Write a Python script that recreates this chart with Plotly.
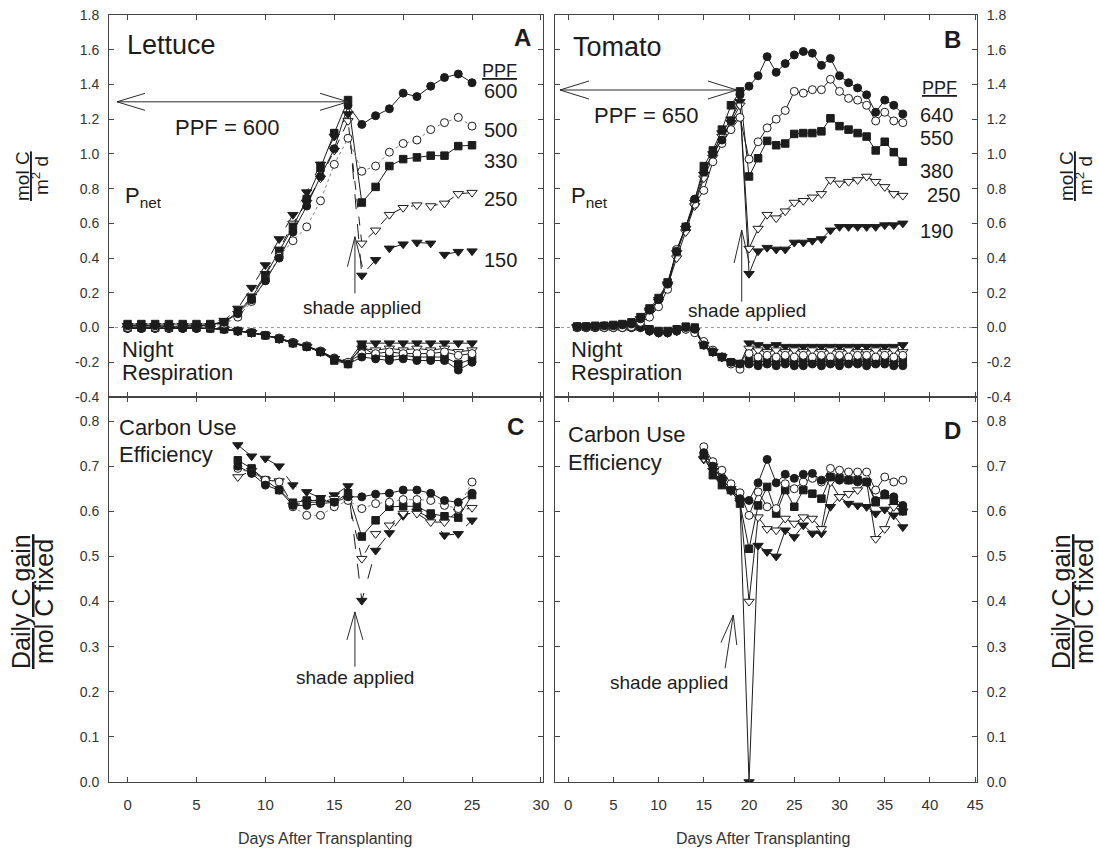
import plotly.graph_objects as go

# ------------------------------------------------------------------ data
lettuce_days = list(range(0, 26))
lettuce_pnet = {
    "600": [0.01, 0.01, 0.01, 0.005, 0.01, 0.01, 0.015, 0.03, 0.08, 0.16, 0.27, 0.40, 0.55, 0.70, 0.87, 1.03, 1.28,
            1.17, 1.22, 1.26, 1.35, 1.33, 1.39, 1.44, 1.46, 1.41],
    "500": [0.0, 0.01, 0.0, 0.0, 0.01, 0.01, 0.01, 0.02, 0.06, 0.15, 0.27, 0.41, 0.50, 0.58, 0.73, 0.94, 1.09,
            0.90, 0.93, 1.01, 1.06, 1.08, 1.14, 1.18, 1.21, 1.16],
    "330": [0.02, 0.02, 0.02, 0.02, 0.02, 0.02, 0.02, 0.03, 0.09, 0.17, 0.30, 0.44, 0.58, 0.74, 0.92, 1.12, 1.31,
            0.72, 0.81, 0.93, 0.97, 0.98, 0.99, 0.99, 1.045, 1.05],
    "250": [0.01, 0.01, 0.01, 0.01, 0.01, 0.01, 0.01, 0.03, 0.08, 0.18, 0.31, 0.45, 0.60, 0.72, 0.86, 1.02, 1.19,
            0.485, 0.56, 0.65, 0.69, 0.705, 0.70, 0.715, 0.77, 0.777],
    "150": [0.01, 0.01, 0.01, 0.01, 0.01, 0.01, 0.01, 0.04, 0.11, 0.23, 0.36, 0.51, 0.65, 0.78, 0.94, 1.10, 1.23,
            0.30, 0.39, 0.456, 0.48, 0.49, 0.485, 0.42, 0.437, 0.44],
}
lettuce_night = {
    "600": [-0.005, -0.005, -0.005, -0.005, -0.005, -0.005, -0.005, -0.01, -0.02, -0.03, -0.045, -0.065, -0.09,
            -0.11, -0.14, -0.18, -0.21, -0.17, -0.18, -0.19, -0.18, -0.19, -0.19, -0.19, -0.245, -0.20],
    "500": [-0.005, -0.005, -0.005, -0.005, -0.005, -0.005, -0.005, -0.01, -0.02, -0.03, -0.045, -0.06, -0.085,
            -0.105, -0.135, -0.175, -0.20, -0.15, -0.15, -0.14, -0.15, -0.15, -0.15, -0.14, -0.16, -0.15],
    "330": [-0.0, -0.0, -0.0, -0.0, -0.0, -0.0, -0.005, -0.01, -0.02, -0.03, -0.045, -0.065, -0.09,
            -0.11, -0.14, -0.19, -0.21, -0.11, -0.16, -0.17, -0.16, -0.17, -0.17, -0.17, -0.21, -0.18],
    "250": [-0.005, -0.005, -0.005, -0.005, -0.005, -0.005, -0.005, -0.01, -0.02, -0.03, -0.045, -0.065, -0.09,
            -0.11, -0.14, -0.18, -0.20, -0.12, -0.13, -0.12, -0.13, -0.12, -0.13, -0.12, -0.14, -0.13],
    "150": [-0.005, -0.005, -0.005, -0.005, -0.005, -0.005, -0.005, -0.01, -0.02, -0.03, -0.045, -0.065, -0.09,
            -0.11, -0.14, -0.18, -0.20, -0.09, -0.09, -0.09, -0.09, -0.09, -0.09, -0.09, -0.09, -0.09],
}
lettuce_cue_days = list(range(8, 26))
lettuce_cue = {
    "600": [0.70, 0.684, 0.658, 0.647, 0.613, 0.613, 0.617, 0.62, 0.632, 0.632, 0.638, 0.64, 0.647, 0.647, 0.64,
            0.624, 0.62, 0.64],
    "500": [0.695, 0.685, 0.669, 0.665, 0.61, 0.591, 0.591, 0.61, 0.624, 0.606, 0.617, 0.62, 0.626, 0.626, 0.624,
            0.613, 0.606, 0.665],
    "330": [0.713, 0.695, 0.669, 0.647, 0.619, 0.624, 0.624, 0.62, 0.64, 0.544, 0.58, 0.61, 0.611, 0.611, 0.595,
            0.589, 0.586, 0.636],
    "250": [0.676, 0.69, 0.669, 0.667, 0.613, 0.62, 0.62, 0.628, 0.628, 0.495, 0.55, 0.569, 0.595, 0.595, 0.576,
            0.576, 0.60, 0.608],
    "150": [0.747, 0.722, 0.717, 0.70, 0.658, 0.643, 0.63, 0.636, 0.656, 0.402, 0.513, 0.552, 0.59, 0.60, 0.585,
            0.547, 0.55, 0.58],
}

tomato_days = list(range(1, 38))
tomato_pnet = {
    "640": [0.005, 0.005, 0.005, 0.01, 0.01, 0.015, 0.02, 0.05, 0.10, 0.16, 0.25, 0.44, 0.58, 0.74, 0.90, 1.00,
            1.08, 1.19, 1.34, 1.39, 1.45, 1.56, 1.47, 1.52, 1.57, 1.59, 1.58, 1.51, 1.55, 1.45, 1.41, 1.38, 1.34,
            1.24, 1.31, 1.28, 1.23],
    "550": [0.0, 0.0, 0.0, 0.0, 0.0, 0.0, 0.005, 0.03, 0.06, 0.12, 0.22, 0.45, 0.58, 0.71, 0.79, 0.955, 1.06,
            1.14, 1.21, 0.97, 1.07, 1.15, 1.20, 1.25, 1.36, 1.35, 1.37, 1.37, 1.43, 1.36, 1.32, 1.31, 1.28, 1.19,
            1.24, 1.19, 1.18],
    "380": [0.005, 0.005, 0.01, 0.01, 0.015, 0.02, 0.03, 0.06, 0.11, 0.17, 0.26, 0.44, 0.58, 0.73, 0.93, 1.02,
            1.14, 1.28, 1.36, 0.87, 0.975, 1.075, 1.05, 1.06, 1.115, 1.12, 1.12, 1.13, 1.205, 1.16, 1.14, 1.12,
            1.10, 1.02, 1.07, 1.01, 0.955],
    "250": [0.005, 0.005, 0.005, 0.01, 0.01, 0.015, 0.02, 0.05, 0.09, 0.15, 0.24, 0.40, 0.55, 0.70, 0.86, 0.98,
            1.10, 1.18, 1.28, 0.455, 0.57, 0.65, 0.63, 0.67, 0.72, 0.73, 0.75, 0.77, 0.85, 0.83, 0.84, 0.85, 0.87,
            0.84, 0.81, 0.77, 0.76],
    "190": [0.005, 0.005, 0.005, 0.01, 0.01, 0.015, 0.02, 0.05, 0.10, 0.16, 0.25, 0.43, 0.57, 0.72, 0.88, 1.00,
            1.12, 1.20, 1.30, 0.31, 0.44, 0.46, 0.45, 0.45, 0.49, 0.49, 0.50, 0.51, 0.56, 0.58, 0.58, 0.58, 0.58,
            0.58, 0.59, 0.59, 0.60],
}
tomato_night = {
    "640": [0.0, 0.0, 0.0, 0.0, 0.0, 0.0, 0.0, 0.0, -0.02, -0.03, -0.03, -0.02, 0.0, -0.01, -0.10, -0.14, -0.17,
            -0.20, -0.21, -0.21, -0.22, -0.21, -0.22, -0.21, -0.22, -0.22, -0.21, -0.22, -0.21, -0.22, -0.21,
            -0.21, -0.22, -0.21, -0.21, -0.22, -0.22],
    "550": [0.0, 0.0, 0.0, 0.0, 0.0, 0.0, 0.0, 0.0, -0.02, -0.03, -0.03, -0.02, -0.01, -0.03, -0.08, -0.13,
            -0.17, -0.21, -0.24, -0.15, -0.17, -0.16, -0.17, -0.16, -0.17, -0.16, -0.17, -0.16, -0.17, -0.16,
            -0.17, -0.16, -0.16, -0.17, -0.16, -0.17, -0.16],
    "380": [0.005, 0.005, 0.005, 0.005, 0.005, 0.005, 0.005, 0.005, -0.01, -0.02, -0.02, -0.01, 0.005, 0.0,
            -0.10, -0.14, -0.17, -0.20, -0.21, -0.19, -0.20, -0.19, -0.20, -0.19, -0.20, -0.19, -0.20, -0.19,
            -0.20, -0.19, -0.19, -0.20, -0.19, -0.20, -0.19, -0.20, -0.19],
    "250": [0.0, 0.0, 0.0, 0.0, 0.0, 0.0, 0.0, 0.0, -0.02, -0.03, -0.03, -0.02, -0.01, -0.02, -0.10, -0.14,
            -0.17, -0.20, -0.21, -0.12, -0.13, -0.14, -0.13, -0.14, -0.13, -0.14, -0.13, -0.14, -0.13, -0.14,
            -0.13, -0.14, -0.14, -0.13, -0.14, -0.13, -0.14],
    "190": [0.0, 0.0, 0.0, 0.0, 0.0, 0.0, 0.0, 0.0, -0.02, -0.03, -0.03, -0.02, -0.01, -0.02, -0.10, -0.14,
            -0.17, -0.20, -0.21, -0.09, -0.10, -0.11, -0.10, -0.11, -0.11, -0.11, -0.11, -0.11, -0.11, -0.11,
            -0.11, -0.11, -0.11, -0.11, -0.11, -0.11, -0.10],
}
tomato_cue_days = list(range(15, 38))
tomato_cue = {
    "640": [0.73, 0.70, 0.673, 0.647, 0.628, 0.624, 0.663, 0.715, 0.663, 0.682, 0.673, 0.682, 0.684, 0.669,
            0.676, 0.669, 0.669, 0.665, 0.665, 0.624, 0.639, 0.632, 0.613],
    "550": [0.743, 0.71, 0.691, 0.661, 0.641, 0.591, 0.643, 0.61, 0.606, 0.661, 0.65, 0.665, 0.673, 0.665,
            0.695, 0.691, 0.687, 0.687, 0.687, 0.647, 0.676, 0.665, 0.669],
    "380": [0.724, 0.68, 0.658, 0.647, 0.617, 0.517, 0.613, 0.654, 0.595, 0.647, 0.61, 0.647, 0.639, 0.628,
            0.676, 0.673, 0.669, 0.669, 0.665, 0.62, 0.636, 0.624, 0.60],
    "250": [0.717, 0.70, 0.67, 0.65, 0.624, 0.40, 0.587, 0.561, 0.558, 0.584, 0.573, 0.587, 0.584, 0.561,
            0.665, 0.632, 0.639, 0.647, 0.665, 0.539, 0.561, 0.61, 0.60],
    "190": [0.715, 0.69, 0.665, 0.645, 0.62, 0.0, 0.524, 0.51, 0.50, 0.558, 0.543, 0.569, 0.551, 0.551, 0.61,
            0.632, 0.617, 0.613, 0.61, 0.595, 0.604, 0.591, 0.565],
}

top_ticks = [-0.4, -0.2, 0.0, 0.2, 0.4, 0.6, 0.8, 1.0, 1.2, 1.4, 1.6, 1.8]
top_tick_text = ["-0.4", "-0.2", "0.0", "0.2", "0.4", "0.6", "0.8", "1.0", "1.2", "1.4", "1.6", "1.8"]
bot_ticks = [0.0, 0.1, 0.2, 0.3, 0.4, 0.5, 0.6, 0.7, 0.8]
bot_tick_text = ["0.0", "0.1", "0.2", "0.3", "0.4", "0.5", "0.6", "0.7", "0.8"]
lettuce_x_ticks = [0, 5, 10, 15, 20, 25, 30]
tomato_x_ticks = [0, 5, 10, 15, 20, 25, 30, 35, 40, 45]

# ------------------------------------------------------------------ styling
W, H = 1099, 853
FONT = "Liberation Sans, Arial, Helvetica, sans-serif"
NARROW = "Liberation Sans Narrow, Arial Narrow, Liberation Sans, sans-serif"
INK = "#1c1c1c"
AX = "#454545"

XR_L = [-1.35, 30.15]
XR_T = [-1.45, 45.2]
YR_TOP = [-0.4, 1.8]
YR_BOT = [0.0, 0.8533]

PANEL = {
    "A": dict(xa="x", ya="y", xr=XR_L, yr=YR_TOP, px=(109, 543), py=(15, 397)),
    "B": dict(xa="x2", ya="y2", xr=XR_T, yr=YR_TOP, px=(555, 977), py=(15, 397)),
    "C": dict(xa="x3", ya="y3", xr=XR_L, yr=YR_BOT, px=(109, 543), py=(397, 782)),
    "D": dict(xa="x4", ya="y4", xr=XR_T, yr=YR_BOT, px=(555, 977), py=(397, 782)),
}

MARK = {  # series key -> (symbol, filled, size)
    "circle_f": ("circle", True, 8),
    "circle_o": ("circle", False, 8),
    "square_f": ("square", True, 7.5),
    "tri_o": ("triangle-down", False, 9),
    "tri_f": ("triangle-down", True, 9),
}
L_STYLE = {"600": ("circle_f", "solid", INK), "500": ("circle_o", "dot", "#808080"),
           "330": ("square_f", "solid", INK), "250": ("tri_o", "dash", INK), "150": ("tri_f", "longdash", INK)}
T_STYLE = {"640": ("circle_f", "solid", INK), "550": ("circle_o", "solid", INK),
           "380": ("square_f", "solid", INK), "250": ("tri_o", "solid", INK), "190": ("tri_f", "solid", INK)}

fig = go.Figure()


def add_series(panel, x, y, mark, dash, lcolor):
    sym, filled, size = MARK[mark]
    P = PANEL[panel]
    fig.add_trace(go.Scatter(
        x=x, y=y, xaxis=P["xa"], yaxis=P["ya"], mode="lines+markers",
        line=dict(color=lcolor, width=1, dash=dash),
        marker=dict(symbol=sym, size=size, color=INK if filled else "white",
                    line=dict(color=INK, width=1)),
        showlegend=False, hoverinfo="skip"))


for k in ["150", "250", "330", "500", "600"]:
    m, d, c = L_STYLE[k]
    add_series("A", lettuce_days, lettuce_night[k], m, "solid", INK)
for k in ["150", "250", "330", "500", "600"]:
    m, d, c = L_STYLE[k]
    add_series("A", lettuce_days, lettuce_pnet[k], m, d, c)
    add_series("C", lettuce_cue_days, lettuce_cue[k], m, d, c)
for k in ["190", "250", "380", "550", "640"]:
    m, d, c = T_STYLE[k]
    add_series("B", tomato_days, tomato_night[k], m, d, c)
for k in ["190", "250", "380", "550", "640"]:
    m, d, c = T_STYLE[k]
    add_series("B", tomato_days, tomato_pnet[k], m, d, c)
    add_series("D", tomato_cue_days, tomato_cue[k], m, d, c)

# ------------------------------------------------------------------ axes
common = dict(showline=True, linecolor=AX, linewidth=1, mirror="ticks", ticks="inside", ticklen=5,
              tickcolor=AX, tickwidth=1, showgrid=False, zeroline=False, automargin=False)
yfont = dict(family=FONT, size=14, color="#333")
xfont = dict(family=NARROW, size=15, color="#333")


def xd(p):
    return [PANEL[p]["px"][0] / W, PANEL[p]["px"][1] / W]


def yd(p):
    return [1 - PANEL[p]["py"][1] / H, 1 - PANEL[p]["py"][0] / H]


fig.update_layout(
    width=W, height=H, margin=dict(l=0, r=0, t=0, b=0), autosize=False,
    paper_bgcolor="white", plot_bgcolor="white", showlegend=False,
    xaxis=dict(domain=xd("A"), range=XR_L, anchor="y", tickvals=lettuce_x_ticks, showticklabels=False, **common),
    yaxis=dict(domain=yd("A"), range=YR_TOP, anchor="x", tickvals=top_ticks, ticktext=top_tick_text,
               tickfont=yfont, ticklabelstandoff=6, **common),
    xaxis2=dict(domain=xd("B"), range=XR_T, anchor="y2", tickvals=tomato_x_ticks, showticklabels=False, **common),
    yaxis2=dict(domain=yd("B"), range=YR_TOP, anchor="x2", side="right", tickvals=top_ticks,
                ticktext=top_tick_text, tickfont=yfont, ticklabelstandoff=6, **common),
    xaxis3=dict(domain=xd("C"), range=XR_L, anchor="y3", tickvals=lettuce_x_ticks,
                ticktext=[str(v) for v in lettuce_x_ticks], tickfont=xfont, ticklabelstandoff=9, **common),
    yaxis3=dict(domain=yd("C"), range=YR_BOT, anchor="x3", tickvals=bot_ticks, ticktext=bot_tick_text,
                tickfont=yfont, ticklabelstandoff=6, **common),
    xaxis4=dict(domain=xd("D"), range=XR_T, anchor="y4", tickvals=tomato_x_ticks,
                ticktext=[str(v) for v in tomato_x_ticks], tickfont=xfont, ticklabelstandoff=9, **common),
    yaxis4=dict(domain=yd("D"), range=YR_BOT, anchor="x4", side="right", tickvals=bot_ticks,
                ticktext=bot_tick_text, tickfont=yfont, ticklabelstandoff=6, **common),
)

# dotted zero lines in the top panels
for p in ["A", "B"]:
    P = PANEL[p]
    fig.add_shape(type="line", xref=P["xa"] + " domain", yref=P["ya"], x0=0, x1=1, y0=0, y1=0,
                  line=dict(color="#9a9a9a", width=1, dash="dot"), layer="below")


# ------------------------------------------------------------------ arrows (open V heads)
def d2p(p, x, y):
    P = PANEL[p]
    X = P["px"][0] + (x - P["xr"][0]) / (P["xr"][1] - P["xr"][0]) * (P["px"][1] - P["px"][0])
    Y = P["py"][1] - (y - P["yr"][0]) / (P["yr"][1] - P["yr"][0]) * (P["py"][1] - P["py"][0])
    return X, Y


def p2d(p, X, Y):
    P = PANEL[p]
    x = P["xr"][0] + (X - P["px"][0]) / (P["px"][1] - P["px"][0]) * (P["xr"][1] - P["xr"][0])
    y = P["yr"][0] + (P["py"][1] - Y) / (P["py"][1] - P["py"][0]) * (P["yr"][1] - P["yr"][0])
    return x, y


def seg(p, x0, y0, x1, y1):
    P = PANEL[p]
    fig.add_shape(type="line", xref=P["xa"], yref=P["ya"], x0=x0, y0=y0, x1=x1, y1=y1,
                  line=dict(color="#2a2a2a", width=1))


def head(p, tip, tail, L, half):
    tx, ty = d2p(p, *tip)
    sx, sy = d2p(p, *tail)
    dx, dy = sx - tx, sy - ty
    n = (dx * dx + dy * dy) ** 0.5
    ux, uy = dx / n, dy / n
    nx, ny = -uy, ux
    for s in (1, -1):
        ax, ay = p2d(p, tx + L * ux + s * half * nx, ty + L * uy + s * half * ny)
        seg(p, tip[0], tip[1], ax, ay)


def arrow(p, tail, tip, L=29, half=8):
    seg(p, tail[0], tail[1], tip[0], tip[1])
    head(p, tip, tail, L, half)


def double_arrow(p, a, b, L=28, half=8.5):
    seg(p, a[0], a[1], b[0], b[1])
    head(p, a, b, L, half)
    head(p, b, a, L, half)


double_arrow("A", (-0.77, 1.30), (16.0, 1.30))
double_arrow("B", (-0.9, 1.368), (18.65, 1.368), L=29, half=9)
arrow("A", (16.5, 0.197), (16.5, 0.523), L=30, half=7.5)
arrow("B", (19.19, 0.149), (19.19, 0.562), L=33, half=7.6)
arrow("C", (16.5, 0.2555), (16.5, 0.377), L=28, half=8)
arrow("D", (17.35, 0.252), (18.26, 0.370), L=29, half=8)


# ------------------------------------------------------------------ text
def txt(text, X, Y, size, xanchor="center", yanchor="middle", family=FONT, angle=0, color=INK):
    fig.add_annotation(text=text, x=X / W, y=1 - Y / H, xref="paper", yref="paper", showarrow=False,
                       xanchor=xanchor, yanchor=yanchor, textangle=angle,
                       font=dict(family=family, size=size, color=color))


# panel A
txt("Lettuce", 125, 45, 27, xanchor="left")
txt("<b>A</b>", 522, 37, 24)
txt("<u>PPF</u>", 499, 71, 18)
for lab, yy in [("600", 91), ("500", 130), ("330", 161), ("250", 199), ("150", 260)]:
    txt(lab, 500, yy, 20)
txt("PPF = 600", 227, 127, 22)
txt("P<sub>net</sub>", 123, 197, 22, xanchor="left")
txt("Night", 120, 350, 22, xanchor="left")
txt("Respiration", 120, 372, 22, xanchor="left")
txt("shade applied", 362, 307, 19)

# panel B
txt("Tomato", 571, 47, 27, xanchor="left")
txt("<b>B</b>", 952, 39, 24)
txt("<u>PPF</u>", 939, 88, 18)
for lab, yy in [("640", 115), ("550", 138), ("380", 171), ("250", 195), ("190", 231)]:
    xx = 943 if lab == "250" else 936
    txt(lab, xx, yy, 20)
txt("PPF = 650", 646, 115, 22)
txt("P<sub>net</sub>", 569, 197, 22, xanchor="left")
txt("Night", 569, 350, 22, xanchor="left")
txt("Respiration", 569, 372, 22, xanchor="left")
txt("shade applied", 747, 310, 19)

# panel C
txt("Carbon Use", 117, 427, 22, xanchor="left")
txt("Efficiency", 117, 454, 22, xanchor="left")
txt("<b>C</b>", 515, 426, 24)
txt("shade applied", 355, 677, 19)

# panel D
txt("Carbon Use", 566, 434, 22, xanchor="left")
txt("Efficiency", 566, 462, 22, xanchor="left")
txt("<b>D</b>", 952, 430, 24)
txt("shade applied", 669, 682, 19)

# axis titles
txt("<u>mol C</u>", 23, 176, 19, angle=-90)
txt("m<sup>2</sup> d", 40, 176, 19, angle=-90)
txt("<u>Daily C gain</u>", 21, 602, 25, angle=-90)
txt("mol C fixed", 44, 602, 25, angle=-90)
txt("<u>mol C</u>", 1067, 176, 19, angle=-90)
txt("m<sup>2</sup> d", 1084, 176, 19, angle=-90)
txt("<u>Daily C gain</u>", 1061, 602, 25, angle=-90)
txt("mol C fixed", 1084, 602, 25, angle=-90)
txt("Days After Transplanting", 325, 838, 16, family=NARROW, color="#333")
txt("Days After Transplanting", 763, 838, 16, family=NARROW, color="#333")

fig.write_html("out.html", config={"displayModeBar": False},
               post_script="document.body.style.margin='0px';document.body.style.padding='0px';")
